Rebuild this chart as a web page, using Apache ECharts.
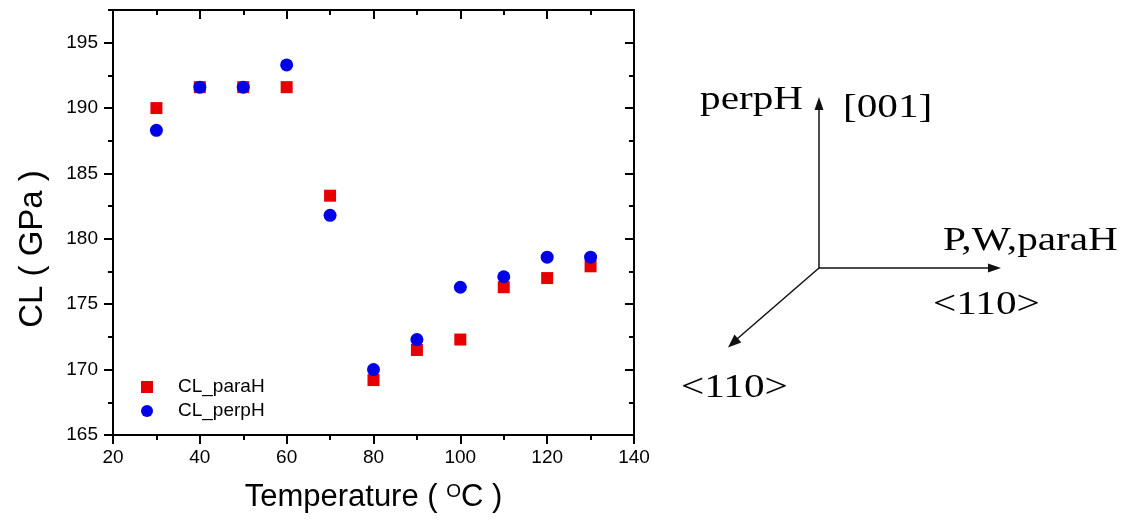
<!DOCTYPE html>
<html>
<head>
<meta charset="utf-8">
<script src="https://cdn.jsdelivr.net/npm/echarts@6/dist/echarts.min.js"></script>
<style>
  html, body { margin: 0; padding: 0; background: #fff; }
  #chart { width: 1135px; height: 521px; }
</style>
</head>
<body>
<div id="chart"></div>
<script>
// ---- data ----
const temps = [30, 40, 50, 60, 70, 80, 90, 100, 110, 120, 130];
const clParaH = [190.0, 191.6, 191.6, 191.6, 183.3, 169.2, 171.5, 172.3, 176.3, 177.0, 177.9];
const clPerpH = [188.3, 191.6, 191.6, 193.3, 181.8, 170.0, 172.3, 176.3, 177.1, 178.6, 178.6];
const xTickValues = [20, 40, 60, 80, 100, 120, 140];
const yTickValues = [165, 170, 175, 180, 185, 190, 195];
const seriesNames = ['CL_paraH', 'CL_perpH'];

const SANS = '"Liberation Sans", Arial, sans-serif';
const SERIF = '"Liberation Serif", "Times New Roman", serif';

const toPairs = (xs, ys) => xs.map((x, i) => [x, ys[i]]);

const axisLineStyle = { color: '#000', width: 2 };
const tickStyle = { color: '#000', width: 2 };

const chart = echarts.init(document.getElementById('chart'));

// Diagram (annotation) on the right
const diagColor = '#111';
const T = (text, x, y) => ({
  type: 'text', x: x, y: y, scaleX: 1.25, scaleY: 1,
  style: { text: text, font: '33px ' + SERIF, fill: '#000', verticalAlign: 'middle', align: 'left' }
});

const option = {
  backgroundColor: '#fff',
  animation: false,
  grid: { left: 113, right: 501, top: 10, bottom: 86 },
  legend: {
    orient: 'vertical', left: 141, top: 377, padding: 0,
    itemWidth: 12, itemHeight: 12, itemGap: 4,
    data: seriesNames,
    textStyle: { fontSize: 19, fontFamily: SANS, color: '#000', lineHeight: 20, padding: [0, 0, 0, 20] }
  },
  xAxis: [
    {
      type: 'value', position: 'bottom', min: 20, max: 140, interval: 20,
      axisLine: { lineStyle: axisLineStyle },
      axisTick: { inside: false, length: 9, lineStyle: tickStyle },
      minorTick: { show: true, splitNumber: 2, length: 5, lineStyle: tickStyle },
      axisLabel: { fontSize: 19, fontFamily: SANS, color: '#000', margin: 13 },
      splitLine: { show: false },
      name: 'Temperature ( {sup|O}C )',
      nameLocation: 'middle', nameGap: 47,
      nameTextStyle: {
        fontSize: 31, fontFamily: SANS, color: '#000',
        rich: { sup: { fontSize: 19, fontFamily: SANS, color: '#000', verticalAlign: 'top', lineHeight: 19 } }
      }
    },
    {
      type: 'value', position: 'top', min: 20, max: 140, interval: 20,
      axisLine: { lineStyle: axisLineStyle },
      axisTick: { inside: true, length: 9, lineStyle: tickStyle },
      minorTick: { show: true, splitNumber: 2, length: 5, lineStyle: tickStyle },
      axisLabel: { show: false },
      splitLine: { show: false }
    }
  ],
  yAxis: [
    {
      type: 'value', position: 'left', min: 165, max: 197.5, interval: 5,
      axisLine: { show: true, lineStyle: axisLineStyle },
      axisTick: { inside: false, length: 9, lineStyle: tickStyle, customValues: yTickValues },
      axisLabel: {
        fontSize: 19, fontFamily: SANS, color: '#000', margin: 15, customValues: yTickValues,
        formatter: v => (v % 5 === 0 ? String(v) : '')
      },
      splitLine: { show: false },
      name: 'CL ( GPa )', nameLocation: 'middle', nameGap: 64, nameRotate: 90,
      nameTextStyle: { fontSize: 33, fontFamily: SANS, color: '#000', padding: [0, 53, 0, 0] }
    },
    {
      type: 'value', position: 'left', min: 165, max: 197.5, interval: 2.5,
      axisLine: { show: false },
      axisTick: { inside: false, length: 5, lineStyle: tickStyle },
      axisLabel: { show: false },
      splitLine: { show: false }
    },
    {
      type: 'value', position: 'right', min: 165, max: 197.5, interval: 5,
      axisLine: { show: true, lineStyle: axisLineStyle },
      axisTick: { inside: true, length: 9, lineStyle: tickStyle, customValues: yTickValues },
      axisLabel: { show: false },
      splitLine: { show: false }
    },
    {
      type: 'value', position: 'right', min: 165, max: 197.5, interval: 2.5,
      axisLine: { show: false },
      axisTick: { inside: true, length: 5, lineStyle: tickStyle },
      axisLabel: { show: false },
      splitLine: { show: false }
    }
  ],
  series: [
    {
      name: seriesNames[0], type: 'scatter', xAxisIndex: 0, yAxisIndex: 0,
      symbol: 'rect', symbolSize: 12,
      itemStyle: { color: '#e60000', opacity: 1 },
      data: toPairs(temps, clParaH)
    },
    {
      name: seriesNames[1], type: 'scatter', xAxisIndex: 0, yAxisIndex: 0,
      symbol: 'circle', symbolSize: 13,
      itemStyle: { color: '#0000e6', opacity: 1 },
      data: toPairs(temps, clPerpH)
    }
  ],
  graphic: [
    // vertical arrow
    { type: 'line', shape: { x1: 819, y1: 268, x2: 819, y2: 108 }, style: { stroke: diagColor, lineWidth: 1.5 } },
    { type: 'polygon', shape: { points: [[819, 97], [814.5, 110], [823.5, 110]] }, style: { fill: diagColor } },
    // horizontal arrow
    { type: 'line', shape: { x1: 819, y1: 268, x2: 990, y2: 268 }, style: { stroke: diagColor, lineWidth: 1.5 } },
    { type: 'polygon', shape: { points: [[1001, 268], [988, 263.5], [988, 272.5]] }, style: { fill: diagColor } },
    // diagonal arrow
    { type: 'line', shape: { x1: 819, y1: 268, x2: 737, y2: 339 }, style: { stroke: diagColor, lineWidth: 1.5 } },
    { type: 'polygon', shape: { points: [[728, 347.5], [741.3, 342.5], [734.5, 334.5]] }, style: { fill: diagColor } },
    // labels
    T('perpH', 700, 100),
    T('[001]', 843, 108),
    T('P,W,paraH', 943, 241),
    T('<110>', 933, 305),
    T('<110>', 681, 388)
  ]
};

chart.setOption(option);
</script>
</body>
</html>
